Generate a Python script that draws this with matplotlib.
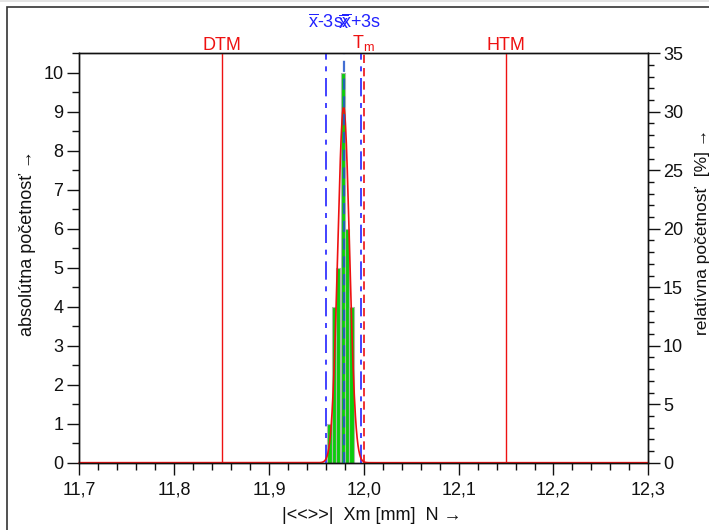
import numpy as np
import matplotlib.pyplot as plt
import matplotlib.ticker as ticker
from matplotlib.patches import Rectangle

plt.rcParams['font.family'] = ['Liberation Sans', 'DejaVu Sans']
plt.rcParams['mathtext.fontset'] = 'custom'
plt.rcParams['mathtext.rm'] = 'Liberation Sans'
plt.rcParams['mathtext.it'] = 'Liberation Sans'

# --- data ---
bin_centers = [11.9640, 11.9685, 11.9730, 11.9780, 11.9825, 11.9870]
bin_counts = [1, 4, 5, 10, 6, 4]
bin_width = 0.0047
n_total = sum(bin_counts)

mean_x = 11.9787
std_s = 0.00617
DTM = 11.85
HTM = 12.15
Tm = 12.0

x_min, x_max = 11.7, 12.3
y_max = 10.5

fig = plt.figure(figsize=(7.09, 5.30), dpi=100)
ax = fig.add_axes([0.1119, 0.127, 0.8025, 0.7724])

# histogram bars
ax.bar(bin_centers, bin_counts, width=bin_width, color='#0ccc0c',
       edgecolor='#a8b8a8', linewidth=0.8, zorder=2)

# fitted normal curve
xs = np.linspace(x_min, x_max, 2000)
pdf = n_total * bin_width / (std_s * np.sqrt(2 * np.pi)) * np.exp(-0.5 * ((xs - mean_x) / std_s) ** 2)
ax.plot(xs, pdf, color='#ee1111', lw=1.2, zorder=4, clip_on=False)

# tolerance lines
for xv in (DTM, HTM):
    ax.axvline(xv, color='#ee1111', lw=1.0, zorder=3)
ax.axvline(Tm, color='#ee1111', lw=1.2, dashes=(5, 3), zorder=3)

# mean and +-3s lines
ax.axvline(mean_x - 3 * std_s, color='#2222ff', lw=1.2, dashes=(11, 4, 3, 4), zorder=3)
ax.axvline(mean_x + 3 * std_s, color='#2222ff', lw=1.2, dashes=(11, 4, 3, 4), zorder=3)
ax.axvline(mean_x, color='#2255cc', lw=1.6, dashes=(5, 3), zorder=5, alpha=0.85)

ax.set_xlim(x_min, x_max)
ax.set_ylim(0, y_max)

ax.xaxis.set_major_locator(ticker.MultipleLocator(0.1))
ax.xaxis.set_minor_locator(ticker.MultipleLocator(0.02))
ax.xaxis.set_major_formatter(ticker.FuncFormatter(lambda v, p: f'{v:.1f}'.replace('.', ',')))
ax.yaxis.set_major_locator(ticker.MultipleLocator(1))
ax.yaxis.set_minor_locator(ticker.MultipleLocator(0.5))

ax.tick_params(axis='both', which='major', direction='out', length=8.5, width=1,
               labelsize=13, colors='#111111', pad=3)
ax.tick_params(axis='both', which='minor', direction='out', length=5, width=1, colors='#111111')
ax.tick_params(axis='x', which='major', pad=5)

ax2 = ax.twinx()
ax2.set_ylim(0, y_max * 100 / n_total)
ax2.yaxis.set_major_locator(ticker.MultipleLocator(5))
ax2.yaxis.set_minor_locator(ticker.MultipleLocator(1))
ax2.tick_params(axis='y', which='major', direction='out', length=8.5, width=1,
                labelsize=13, colors='#111111', pad=2)
ax2.tick_params(axis='y', which='minor', direction='out', length=4.5, width=1, colors='#111111')

for a in (ax, ax2):
    for sp in a.spines.values():
        sp.set_linewidth(1.0)
        sp.set_color('#111111')

# labels above the plot
top = ax.get_xaxis_transform()
ax.text(DTM, 1.008, 'DTM', color='#ee1111', fontsize=13, ha='center', va='baseline', transform=top)
ax.text(HTM, 1.008, 'HTM', color='#ee1111', fontsize=13, ha='center', va='baseline', transform=top)
ax.text(Tm, 1.012, r'T$_{\rm m}$', color='#ee1111', fontsize=13, ha='center', va='baseline', transform=top)
ax.text(mean_x - 3 * std_s, 1.062, r'$\overline{\rm x}$-3s', color='#2222ff', fontsize=13,
        ha='center', va='baseline', transform=top)
ax.text(mean_x, 1.062, r'$\overline{\rm x}$', color='#2222ff', fontsize=13,
        ha='center', va='baseline', transform=top)
ax.text(mean_x + 3 * std_s, 1.062, r'$\overline{\rm x}$+3s', color='#2222ff', fontsize=13,
        ha='center', va='baseline', transform=top)

fig.text(28 / 709, 1 - 243 / 530, 'absolútna početnosť →', rotation=90,
         ha='center', va='center', fontsize=13, color='#111111')
fig.text(702 / 709, 1 - 232 / 530, 'relatívna početnosť  [%] →', rotation=90,
         ha='center', va='center', fontsize=12.5, color='#111111')
fig.text(372 / 709, 1 - 516 / 530, '|<<>>|  Xm [mm]  N →', ha='center', va='center',
         fontsize=13, color='#111111')

# outer frame of the exported window
fig.patches.append(Rectangle((0, 1 - 2 / 530), 1, 2 / 530, transform=fig.transFigure,
                             facecolor='#e4e4e4', edgecolor='none'))
fig.patches.append(Rectangle((6.5 / 709, -0.1), 1.2, 1.1 - 6.5 / 530, transform=fig.transFigure,
                             facecolor='none', edgecolor='#333333', linewidth=1.2))

fig.savefig('out.png', dpi=100)
